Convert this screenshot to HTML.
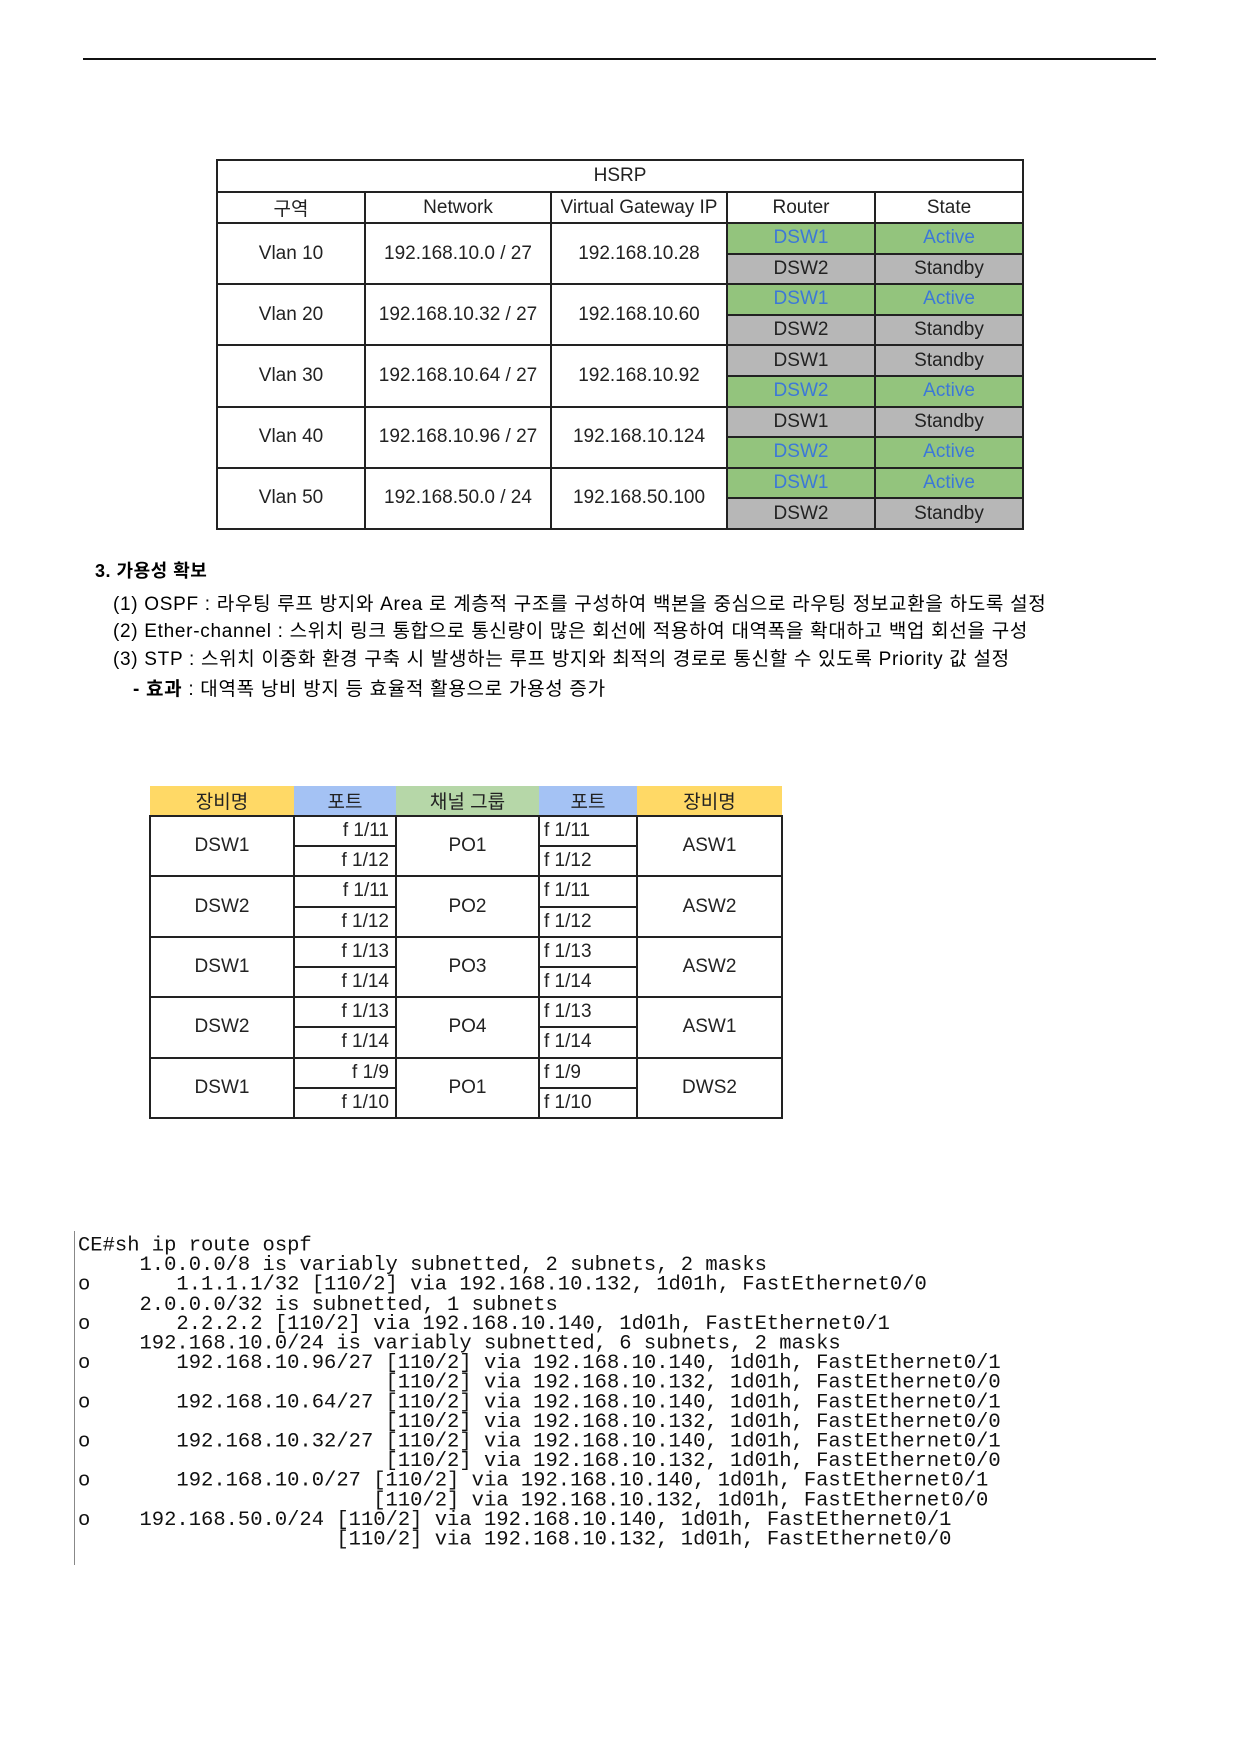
<!DOCTYPE html>
<html><head><meta charset="utf-8">
<style>
body{margin:0;width:1240px;height:1756px;background:#fff;position:relative;overflow:hidden;font-family:"Liberation Sans","Noto Sans CJK KR",sans-serif;color:#000}
.abs{position:absolute}
table{border-collapse:collapse;table-layout:fixed;position:absolute}
td{padding:0;text-align:center;vertical-align:middle;font-family:"Liberation Sans Narrow","Liberation Sans","Noto Sans CJK KR",sans-serif;font-size:19px;color:#222;overflow:hidden;white-space:nowrap}
#hsrp td{border:2px solid #222}
#hsrp td.g{background:#93c47d;color:#3c78d8}
#hsrp td.s{background:#b7b7b7}
#ch td{border:2px solid #222}
#ch td.hy{background:#ffd966;border:none;border-bottom:2px solid #222}
#ch td.hb{background:#a4c2f4;border:none;border-bottom:2px solid #222}
#ch td.hg{background:#b6d7a8;border:none;border-bottom:2px solid #222}
#ch td.r{text-align:right;padding-right:6px}
#ch td.l{text-align:left;padding-left:4px}
.txt{position:absolute;font-size:19px;letter-spacing:0.7px;white-space:nowrap;font-family:"Liberation Sans","Noto Sans CJK KR",sans-serif}
pre{position:absolute;margin:0;font-family:"Liberation Mono",monospace;font-size:20.5px;line-height:20.2px;color:#111;transform:scaleY(0.97);transform-origin:0 0}
</style></head><body>
<div class="abs" style="left:83px;top:58px;width:1073px;height:2px;background:#111"></div>

<table id="hsrp" style="left:216px;top:159px;width:806px">
<colgroup><col style="width:148px"><col style="width:186px"><col style="width:176px"><col style="width:148px"><col style="width:148px"></colgroup>
<tr style="height:32px"><td colspan="5">HSRP</td></tr>
<tr style="height:31px"><td>구역</td><td>Network</td><td>Virtual Gateway IP</td><td>Router</td><td>State</td></tr>
<tr style="height:30.6px"><td rowspan="2">Vlan 10</td><td rowspan="2">192.168.10.0 / 27</td><td rowspan="2">192.168.10.28</td><td class="g">DSW1</td><td class="g">Active</td></tr>
<tr style="height:30.6px"><td class="s">DSW2</td><td class="s">Standby</td></tr>
<tr style="height:30.6px"><td rowspan="2">Vlan 20</td><td rowspan="2">192.168.10.32 / 27</td><td rowspan="2">192.168.10.60</td><td class="g">DSW1</td><td class="g">Active</td></tr>
<tr style="height:30.6px"><td class="s">DSW2</td><td class="s">Standby</td></tr>
<tr style="height:30.6px"><td rowspan="2">Vlan 30</td><td rowspan="2">192.168.10.64 / 27</td><td rowspan="2">192.168.10.92</td><td class="s">DSW1</td><td class="s">Standby</td></tr>
<tr style="height:30.6px"><td class="g">DSW2</td><td class="g">Active</td></tr>
<tr style="height:30.6px"><td rowspan="2">Vlan 40</td><td rowspan="2">192.168.10.96 / 27</td><td rowspan="2">192.168.10.124</td><td class="s">DSW1</td><td class="s">Standby</td></tr>
<tr style="height:30.6px"><td class="g">DSW2</td><td class="g">Active</td></tr>
<tr style="height:30.6px"><td rowspan="2">Vlan 50</td><td rowspan="2">192.168.50.0 / 24</td><td rowspan="2">192.168.50.100</td><td class="g">DSW1</td><td class="g">Active</td></tr>
<tr style="height:30.6px"><td class="s">DSW2</td><td class="s">Standby</td></tr>
</table>

<div class="txt" style="left:95px;top:557px;font-weight:bold;font-size:18px;letter-spacing:0.5px">3. 가용성 확보</div>
<div class="txt" style="left:113px;top:589px">(1) OSPF : 라우팅 루프 방지와 Area 로 계층적 구조를 구성하여 백본을 중심으로 라우팅 정보교환을 하도록 설정</div>
<div class="txt" style="left:113px;top:616px">(2) Ether-channel : 스위치 링크 통합으로 통신량이 많은 회선에 적용하여 대역폭을 확대하고 백업 회선을 구성</div>
<div class="txt" style="left:113px;top:644px">(3) STP : 스위치 이중화 환경 구축 시 발생하는 루프 방지와 최적의 경로로 통신할 수 있도록 Priority 값 설정</div>
<div class="txt" style="left:133px;top:674px"><b>- 효과</b> : 대역폭 낭비 방지 등 효율적 활용으로 가용성 증가</div>

<table id="ch" style="left:149px;top:786px;width:632px">
<colgroup><col style="width:144px"><col style="width:102px"><col style="width:143px"><col style="width:98px"><col style="width:145px"></colgroup>
<tr style="height:30px"><td class="hy">장비명</td><td class="hb">포트</td><td class="hg">채널 그룹</td><td class="hb">포트</td><td class="hy">장비명</td></tr>
<tr style="height:30.2px"><td rowspan="2">DSW1</td><td class="r">f 1/11</td><td rowspan="2">PO1</td><td class="l">f 1/11</td><td rowspan="2">ASW1</td></tr>
<tr style="height:30.2px"><td class="r">f 1/12</td><td class="l">f 1/12</td></tr>
<tr style="height:30.2px"><td rowspan="2">DSW2</td><td class="r">f 1/11</td><td rowspan="2">PO2</td><td class="l">f 1/11</td><td rowspan="2">ASW2</td></tr>
<tr style="height:30.2px"><td class="r">f 1/12</td><td class="l">f 1/12</td></tr>
<tr style="height:30.2px"><td rowspan="2">DSW1</td><td class="r">f 1/13</td><td rowspan="2">PO3</td><td class="l">f 1/13</td><td rowspan="2">ASW2</td></tr>
<tr style="height:30.2px"><td class="r">f 1/14</td><td class="l">f 1/14</td></tr>
<tr style="height:30.2px"><td rowspan="2">DSW2</td><td class="r">f 1/13</td><td rowspan="2">PO4</td><td class="l">f 1/13</td><td rowspan="2">ASW1</td></tr>
<tr style="height:30.2px"><td class="r">f 1/14</td><td class="l">f 1/14</td></tr>
<tr style="height:30.2px"><td rowspan="2">DSW1</td><td class="r">f 1/9</td><td rowspan="2">PO1</td><td class="l">f 1/9</td><td rowspan="2">DWS2</td></tr>
<tr style="height:30.2px"><td class="r">f 1/10</td><td class="l">f 1/10</td></tr>
</table>

<div class="abs" style="left:74px;top:1231px;width:1px;height:334px;background:#888"></div>
<pre style="left:78px;top:1237px">CE#sh ip route ospf
     1.0.0.0/8 is variably subnetted, 2 subnets, 2 masks
o       1.1.1.1/32 [110/2] via 192.168.10.132, 1d01h, FastEthernet0/0
     2.0.0.0/32 is subnetted, 1 subnets
o       2.2.2.2 [110/2] via 192.168.10.140, 1d01h, FastEthernet0/1
     192.168.10.0/24 is variably subnetted, 6 subnets, 2 masks
o       192.168.10.96/27 [110/2] via 192.168.10.140, 1d01h, FastEthernet0/1
                         [110/2] via 192.168.10.132, 1d01h, FastEthernet0/0
o       192.168.10.64/27 [110/2] via 192.168.10.140, 1d01h, FastEthernet0/1
                         [110/2] via 192.168.10.132, 1d01h, FastEthernet0/0
o       192.168.10.32/27 [110/2] via 192.168.10.140, 1d01h, FastEthernet0/1
                         [110/2] via 192.168.10.132, 1d01h, FastEthernet0/0
o       192.168.10.0/27 [110/2] via 192.168.10.140, 1d01h, FastEthernet0/1
                        [110/2] via 192.168.10.132, 1d01h, FastEthernet0/0
o    192.168.50.0/24 [110/2] via 192.168.10.140, 1d01h, FastEthernet0/1
                     [110/2] via 192.168.10.132, 1d01h, FastEthernet0/0</pre>
</body></html>
